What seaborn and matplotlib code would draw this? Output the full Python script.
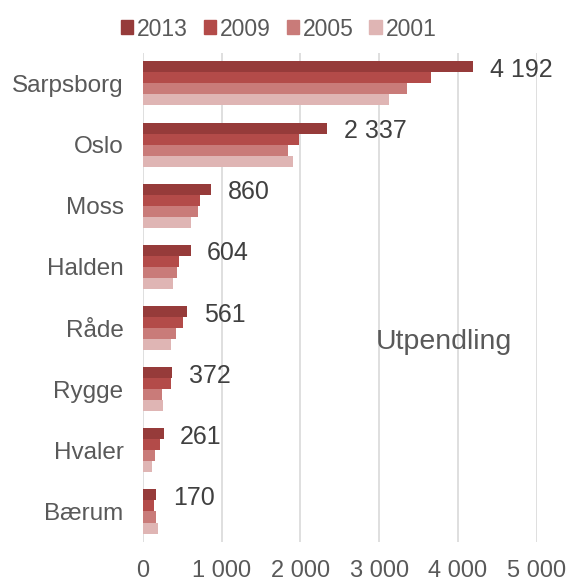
import numpy as np
import pandas as pd
import seaborn as sns
import matplotlib.pyplot as plt
from matplotlib.ticker import FuncFormatter, MultipleLocator

# data
places = ["Sarpsborg", "Oslo", "Moss", "Halden", "Råde", "Rygge", "Hvaler", "Bærum"]
years = ["2013", "2009", "2005", "2001"]
v2013 = [4192, 2337, 860, 604, 561, 372, 261, 170]
v2009 = [3656, 1978, 720, 458, 505, 352, 216, 136]
v2005 = [3355, 1839, 695, 428, 424, 238, 149, 161]
v2001 = [3126, 1911, 606, 377, 356, 250, 110, 186]
colors = ["#963b3a", "#b34b49", "#c97b79", "#dfb5b4"]

df = pd.DataFrame({
    "sted": places * 4,
    "aar": [y for y in years for _ in places],
    "antall": v2013 + v2009 + v2005 + v2001,
})

sns.set_style("white")
plt.rcParams['font.family'] = ['Liberation Sans', 'DejaVu Sans']

fig = plt.figure(figsize=(5.69, 5.81), dpi=100)
ax = fig.add_axes([0.2513, 0.067, 0.692, 0.842])

sns.barplot(data=df, y="sted", x="antall", hue="aar", order=places,
            hue_order=years, palette=colors, orient="h", width=0.72,
            saturation=1, linewidth=0, legend=True, ax=ax)

ax.set_xlim(0, 5000)
ax.xaxis.set_major_locator(MultipleLocator(1000))
ax.xaxis.set_major_formatter(FuncFormatter(lambda v, p: f"{int(v):,}".replace(",", " ")))
ax.grid(axis="x", color="#d9d9d9", linewidth=1.2)
ax.set_axisbelow(True)
for s in ax.spines.values():
    s.set_visible(False)
ax.set_xlabel("")
ax.set_ylabel("")
ax.tick_params(axis="both", length=0, labelsize=17, labelcolor="#595959")
ax.tick_params(axis="x", pad=13)
ax.tick_params(axis="y", pad=14)
for t in ax.get_yticklabels():
    t.set_fontsize(17.5)

# labels for 2013 series
for i, v in enumerate(v2013):
    ax.annotate(f"{v:,}".replace(",", " "), xy=(v, i - 0.22), xytext=(12, 0),
                textcoords="offset points", va="center", ha="left",
                fontsize=18, color="#404040")

ax.text(0.765, 0.41, "Utpendling", transform=ax.transAxes, ha="center",
        va="center", fontsize=20.5, color="#595959")

ax.legend_.remove()
handles = [plt.Rectangle((0, 0), 1, 1, color=c) for c in colors]
fig.legend(handles, years, loc="center", bbox_to_anchor=(278.5 / 569, 1 - 29 / 581),
           ncol=4, frameon=False, fontsize=16.5, handlelength=0.55, handleheight=0.55,
           handletextpad=0.15, columnspacing=0.7, labelcolor="#595959")

fig.savefig("out.png", dpi=100)
